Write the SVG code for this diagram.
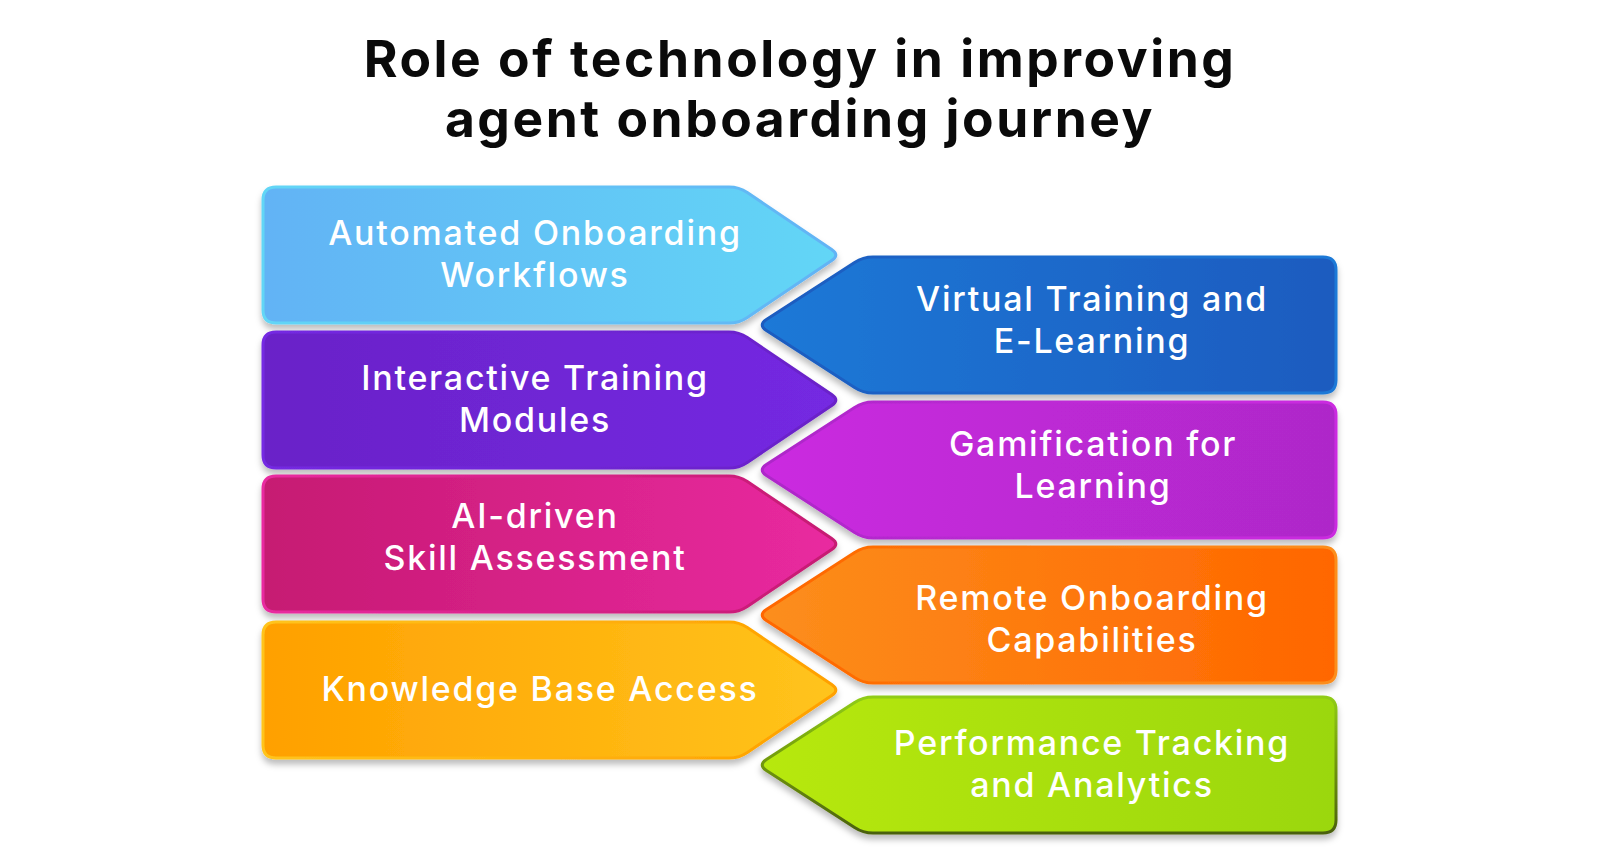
<svg xmlns="http://www.w3.org/2000/svg" xmlns:xlink="http://www.w3.org/1999/xlink" width="1600" height="864" viewBox="0 0 1600 864">
<style>
.title{font-family:Inter,"Noto Sans","Liberation Sans",sans-serif;font-weight:700;font-size:51.5px;letter-spacing:2.55px;fill:#0a0a0a;text-anchor:middle}
.lbl{font-family:Inter,"Noto Sans","Liberation Sans",sans-serif;font-weight:500;font-size:34px;letter-spacing:1.75px;fill:#ffffff;text-anchor:middle}
.shape{stroke-width:3;filter:url(#sh)}
</style>
<defs>
<filter id="sh" x="-5%" y="-10%" width="110%" height="130%">
<feDropShadow dx="0" dy="5" stdDeviation="3" flood-color="#000" flood-opacity="0.26"/>
</filter>
<path id="ls" d="M276,0 L729,0 Q739,0 747.3,5.6 L831.7,62.4 Q840,68 831.7,73.6 L747.3,130.4 Q739,136 729,136 L276,136 Q263,136 263,123 L263,13 Q263,0 276,0 Z"/>
<path id="rs" d="M1323,0 Q1336,0 1336,13 L1336,123 Q1336,136 1323,136 L873,136 Q863,136 854.6,130.5 L766.4,73.5 Q758,68 766.4,62.5 L854.6,5.5 Q863,0 873,0 Z"/>
<linearGradient id="g1" x1="0" y1="0" x2="1" y2="0"><stop offset="0" stop-color="#62b3f5"/><stop offset="1" stop-color="#62d6f6"/></linearGradient>
<linearGradient id="g2" x1="0" y1="0" x2="1" y2="0"><stop offset="0" stop-color="#1b79d7"/><stop offset="1" stop-color="#1a5bbf"/></linearGradient>
<linearGradient id="g3" x1="0" y1="0" x2="1" y2="0"><stop offset="0" stop-color="#6a22c8"/><stop offset="1" stop-color="#7429e2"/></linearGradient>
<linearGradient id="g4" x1="0" y1="0" x2="1" y2="0"><stop offset="0" stop-color="#cb2ae0"/><stop offset="1" stop-color="#ae28c9"/></linearGradient>
<linearGradient id="g5" x1="0" y1="0" x2="1" y2="0"><stop offset="0" stop-color="#c61a72"/><stop offset="1" stop-color="#e92aa0"/></linearGradient>
<linearGradient id="g6" x1="0" y1="0" x2="1" y2="0"><stop offset="0" stop-color="#fc8e1c"/><stop offset="1" stop-color="#ff6600"/></linearGradient>
<linearGradient id="g7" x1="0" y1="0" x2="1" y2="0"><stop offset="0" stop-color="#ffa000"/><stop offset="1" stop-color="#ffc41c"/></linearGradient>
<linearGradient id="g8" x1="0" y1="0" x2="1" y2="0"><stop offset="0" stop-color="#b7e80a"/><stop offset="1" stop-color="#9bd70e"/></linearGradient>
<linearGradient id="r1" xlink:href="#g1" x1="1" y1="0" x2="0" y2="0"/>
<linearGradient id="r2" xlink:href="#g2" x1="1" y1="0" x2="0" y2="0"/>
<linearGradient id="r3" xlink:href="#g3" x1="1" y1="0" x2="0" y2="0"/>
<linearGradient id="r4" xlink:href="#g4" x1="1" y1="0" x2="0" y2="0"/>
<linearGradient id="r5" xlink:href="#g5" x1="1" y1="0" x2="0" y2="0"/>
<linearGradient id="r6" xlink:href="#g6" x1="1" y1="0" x2="0" y2="0"/>
<linearGradient id="r7" xlink:href="#g7" x1="1" y1="0" x2="0" y2="0"/>
<linearGradient id="r8" x1="0" y1="0" x2="0" y2="1"><stop offset="0" stop-color="#90cc14"/><stop offset="0.5" stop-color="#70960f"/><stop offset="1" stop-color="#4a600c"/></linearGradient>
</defs>
<rect width="1600" height="864" fill="#ffffff"/>
<g id="title">
<text class="title" x="800" y="77">Role of technology in improving</text>
<text class="title" x="800" y="137">agent onboarding journey</text>
</g>
<g id="connectors"></g>
<g id="n1">
<use xlink:href="#ls" class="shape" transform="translate(0,187)" fill="url(#g1)" stroke="url(#r1)"/>
<text class="lbl" x="535" y="245">Automated Onboarding</text>
<text class="lbl" x="535" y="287">Workflows</text>
</g>
<g id="n2">
<use xlink:href="#rs" class="shape" transform="translate(0,257)" fill="url(#g2)" stroke="url(#r2)"/>
<text class="lbl" x="1092" y="311">Virtual Training and</text>
<text class="lbl" x="1092" y="353">E-Learning</text>
</g>
<g id="n3">
<use xlink:href="#ls" class="shape" transform="translate(0,332)" fill="url(#g3)" stroke="url(#r3)"/>
<text class="lbl" x="535" y="390">Interactive Training</text>
<text class="lbl" x="535" y="432">Modules</text>
</g>
<g id="n4">
<use xlink:href="#rs" class="shape" transform="translate(0,402)" fill="url(#g4)" stroke="url(#r4)"/>
<text class="lbl" x="1093" y="456">Gamification for</text>
<text class="lbl" x="1093" y="498">Learning</text>
</g>
<g id="n5">
<use xlink:href="#ls" class="shape" transform="translate(0,476)" fill="url(#g5)" stroke="url(#r5)"/>
<text class="lbl" x="535" y="528">AI-driven</text>
<text class="lbl" x="535" y="570">Skill Assessment</text>
</g>
<g id="n6">
<use xlink:href="#rs" class="shape" transform="translate(0,547)" fill="url(#g6)" stroke="url(#r6)"/>
<text class="lbl" x="1092" y="610">Remote Onboarding</text>
<text class="lbl" x="1092" y="652">Capabilities</text>
</g>
<g id="n7">
<use xlink:href="#ls" class="shape" transform="translate(0,622)" fill="url(#g7)" stroke="url(#r7)"/>
<text class="lbl" x="540" y="701">Knowledge Base Access</text>
</g>
<g id="n8">
<use xlink:href="#rs" class="shape" transform="translate(0,697)" fill="url(#g8)" stroke="url(#r8)"/>
<text class="lbl" x="1092" y="755">Performance Tracking</text>
<text class="lbl" x="1092" y="797">and Analytics</text>
</g>
</svg>
